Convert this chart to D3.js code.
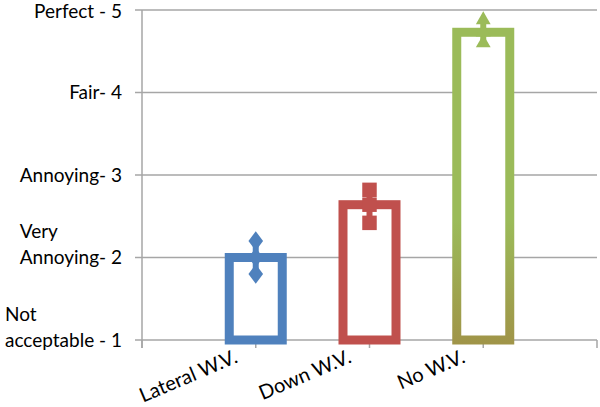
<!DOCTYPE html>
<html>
<head>
<meta charset="utf-8">
<script src="https://cdn.jsdelivr.net/npm/d3@7"></script>
<style>
  html, body { margin: 0; padding: 0; background: #fff; }
  svg { display: block; }
  text { font-family: "Lato", "Open Sans", sans-serif; fill: #000; }
</style>
</head>
<body>
<svg id="chart" width="600" height="407"></svg>
<script>
// ---- data ----
const categories = ["Lateral W.V.", "Down W.V.", "No W.V."];
const meanValues = [2.0, 2.64, 4.73];
const highValues = [2.2, 2.82, 4.88];
const lowValues  = [1.8, 2.42, 4.6];
const yTickValues = [1, 2, 3, 4, 5];
const yTickLabels = [["Not", "acceptable - 1"], ["Very", "Annoying- 2"], ["Annoying- 3"], ["Fair- 4"], ["Perfect - 5"]];
const colors = ["#4f81bd", "#c0504d", "#9bbb59"];
const markerShapes = ["diamond", "square", "triangle"];

(function () {
const svg = d3.select("#chart");
const mLeft = 142, mRight = 597, mTop = 10, mBottom = 340;

const x = d3.scaleLinear().domain([0, categories.length + 1]).range([mLeft, mRight]);
const y = d3.scaleLinear().domain([1, 5]).range([mBottom, mTop]);

const grid = "#a6a6a6";

const defs = svg.append("defs");
const g3 = defs.append("linearGradient").attr("id", "greenGrad")
  .attr("gradientUnits", "userSpaceOnUse")
  .attr("x1", 0).attr("y1", y(meanValues[2])).attr("x2", 0).attr("y2", y(1) + 5);
g3.append("stop").attr("offset", "0%").attr("stop-color", "#9bbb59");
g3.append("stop").attr("offset", "60%").attr("stop-color", "#9bbb59");
g3.append("stop").attr("offset", "100%").attr("stop-color", "#a09448");

// horizontal gridlines + y ticks (left)
svg.append("g").selectAll("line").data(yTickValues).join("line")
  .attr("x1", mLeft - 7).attr("x2", mRight)
  .attr("y1", d => y(d)).attr("y2", d => y(d))
  .attr("stroke", grid).attr("stroke-width", 1.5);

// y axis line
svg.append("line").attr("x1", mLeft).attr("x2", mLeft)
  .attr("y1", y(5)).attr("y2", mBottom + 8)
  .attr("stroke", grid).attr("stroke-width", 1.5);

// x ticks
svg.append("g").selectAll("line").data(d3.range(0, categories.length + 2)).join("line")
  .attr("x1", d => x(d)).attr("x2", d => x(d))
  .attr("y1", mBottom).attr("y2", mBottom + 8)
  .attr("stroke", grid).attr("stroke-width", 1.5);

// y labels
const fs = 19;
const yl = svg.append("g").attr("font-size", fs);
yTickValues.forEach((v, i) => {
  const lines = yTickLabels[i];
  const last = lines[lines.length - 1];
  const t = yl.append("text").attr("x", 122).attr("y", y(v) + (v === 5 ? 1 : 0)).attr("dy", "0.35em")
    .attr("text-anchor", "end").text(last);
  const w = t.node().getComputedTextLength();
  for (let k = 0; k < lines.length - 1; k++) {
    yl.append("text").attr("x", 122 - w)
      .attr("y", y(v) - 26 * (lines.length - 1 - k)).attr("dy", "0.35em")
      .attr("text-anchor", "start").text(lines[k]);
  }
});

// bars (hollow)
const barW = 53, sw = 9;
categories.forEach((c, i) => {
  const cx = x(i + 1);
  svg.append("rect")
    .attr("x", cx - barW / 2).attr("width", barW)
    .attr("y", y(meanValues[i])).attr("height", y(1) - y(meanValues[i]))
    .attr("fill", "#fff")
    .attr("stroke", i === 2 ? "url(#greenGrad)" : colors[i])
    .attr("stroke-width", sw);
});

// error bars + markers
const sym = {
  diamond: d3.symbol().type(d3.symbolDiamond).size(110),
  square: d3.symbol().type(d3.symbolSquare).size(210),
  triangle: d3.symbol().type(d3.symbolTriangle).size(95)
};
categories.forEach((c, i) => {
  const cx = x(i + 1);
  svg.append("line").attr("x1", cx).attr("x2", cx)
    .attr("y1", y(lowValues[i])).attr("y2", y(highValues[i]))
    .attr("stroke", colors[i]).attr("stroke-width", 6);
  [highValues[i], meanValues[i], lowValues[i]].forEach(v => {
    svg.append("path").attr("d", sym[markerShapes[i]]())
      .attr("transform", `translate(${cx},${y(v)})` + (markerShapes[i] === "diamond" ? " scale(1.3,1)" : ""))
      .attr("fill", colors[i]);
  });
});

// x labels rotated
svg.append("g").attr("font-size", 20).selectAll("text").data(categories).join("text")
  .attr("text-anchor", "end")
  .attr("transform", (d, i) => `translate(${x(i + 1) - 17},${mBottom + 22}) rotate(-23)`)
  .text(d => d);
})();
</script>
</body>
</html>
